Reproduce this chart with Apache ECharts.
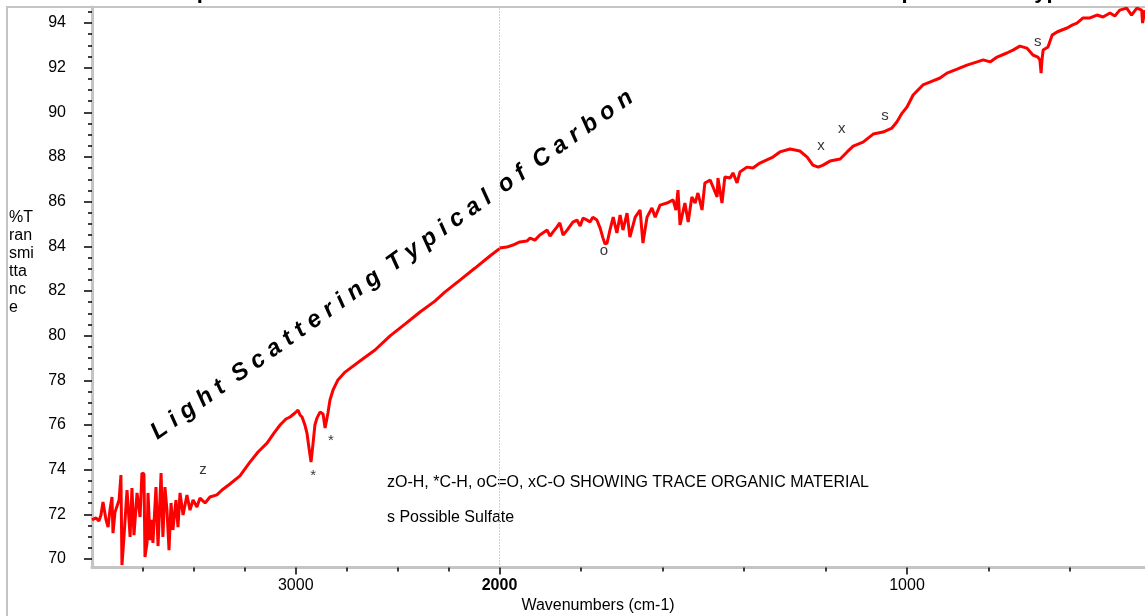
<!DOCTYPE html>
<html>
<head>
<meta charset="utf-8">
<script src="https://cdn.jsdelivr.net/npm/echarts@6/dist/echarts.min.js"></script>
<style>
html,body{margin:0;padding:0;background:#fff;}
#chart{width:1145px;height:616px;}
</style>
</head>
<body>
<div id="chart"></div>
<script>
// ---- data ----
// 4000-2000 cm-1 section
const waveHigh = [4000,3980,3966,3956,3946,3931,3921,3912,3902,3897,3887,3877,3867,3858,3853,3843,3833,3828,3813,3804,3794,3779,3764,3755,3745,3740,3730,3725,3715,3706,3701,3686,3676,3661,3652,3642,3632,3622,3612,3603,3588,3578,3568,3553,3534,3519,3504,3485,3470,3445,3421,3387,3362,3323,3274,3225,3185,3141,3107,3077,3048,3028,3004,2989,2979,2969,2955,2945,2935,2925,2920,2915,2906,2896,2881,2866,2856,2847,2842,2832,2817,2793,2758,2685,2611,2537,2464,2390,2317,2267,2194,2120,2047,2000];
const tHigh = [71.75,71.84,71.70,71.97,72.55,71.75,71.43,72.19,72.78,71.16,72.10,72.37,72.64,73.76,69.73,70.99,72.42,73.09,70.99,73.18,71.07,72.96,71.88,73.85,73.81,70.09,70.72,72.96,70.85,71.75,70.72,73.22,70.58,73.85,70.99,73.22,72.19,70.40,72.51,71.30,72.64,71.43,72.96,71.97,72.87,72.19,72.64,72.33,72.73,72.51,72.78,72.87,73.09,73.36,73.72,74.34,74.79,75.19,75.64,76.00,76.27,76.36,76.54,76.67,76.45,76.36,76.00,75.64,74.97,74.34,74.39,75.19,76.00,76.31,76.58,76.49,75.87,75.87,76.54,77.12,77.57,78.02,78.37,78.87,79.36,79.99,80.52,81.06,81.55,81.96,82.49,83.03,83.57,83.90];
// 2000-416 cm-1 section (expanded scale)
const waveLow = [2000,1982,1967,1950,1933,1925,1913,1901,1883,1876,1869,1859,1852,1844,1834,1827,1820,1810,1802,1795,1785,1778,1771,1761,1753,1746,1741,1736,1729,1721,1712,1704,1697,1687,1680,1667,1655,1648,1638,1626,1618,1606,1589,1574,1567,1562,1557,1545,1537,1528,1520,1513,1503,1496,1483,1476,1466,1464,1454,1447,1434,1427,1417,1410,1393,1378,1361,1344,1329,1312,1287,1263,1245,1231,1218,1206,1189,1164,1147,1132,1108,1083,1059,1037,1025,1012,1000,985,961,944,919,902,877,853,828,813,796,779,755,740,723,706,691,679,674,671,669,666,654,644,632,620,607,595,583,568,551,534,519,502,490,478,461,449,436,424,422,416];
const tLow = [83.93,83.97,84.06,84.20,84.24,84.37,84.28,84.51,84.73,84.46,84.64,84.87,85.05,84.51,84.73,84.91,85.09,85.18,84.91,85.27,85.18,85.09,85.31,85.18,84.82,84.37,84.11,84.15,84.73,85.31,84.60,85.40,84.73,85.49,84.42,85.31,85.63,84.15,85.31,85.72,85.31,85.85,85.94,86.08,85.63,86.52,84.96,85.94,85.09,86.21,85.94,86.39,85.63,86.84,86.97,86.66,86.21,87.06,85.94,87.11,87.06,87.29,86.84,87.33,87.55,87.51,87.73,87.87,88.00,88.23,88.36,88.27,88.00,87.64,87.55,87.64,87.82,87.91,88.23,88.49,88.67,89.03,89.12,89.30,89.57,89.97,90.24,90.78,91.23,91.36,91.54,91.76,91.94,92.12,92.26,92.35,92.26,92.48,92.66,92.79,92.97,92.88,92.57,92.48,92.35,91.76,92.30,92.79,92.93,93.46,93.60,93.69,93.78,93.91,94.00,94.23,94.23,94.36,94.27,94.45,94.32,94.58,94.67,94.36,94.67,94.58,94.00,94.58];

// tick labels
const yTickValues = [70,72,74,76,78,80,82,84,86,88,90,92,94];
const yMinorValues = [70.5,71,71.5,72.5,73,73.5,74.5,75,75.5,76.5,77,77.5,78.5,79,79.5,80.5,81,81.5,82.5,83,83.5,84.5,85,85.5,86.5,87,87.5,88.5,89,89.5,90.5,91,91.5,92.5,93,93.5,94.5];
const xHighMajor = [3000];
const xHighMinor = [2250,2500,2750,3250,3500,3750];
const xLowMajor = [2000,1000];
const xLowMinor = [1800,1600,1400,1200,800,600];

// peak annotations
const peakHighText = ['z','*','*'];
const peakHighWave = [3455,2915,2827];
const peakHighT = [73.99,73.72,75.28];
const peakLowText = ['o','x','x','s','s'];
const peakLowWave = [1744,1211,1160,1054,679];
const peakLowT = [83.79,88.49,89.26,89.84,93.15];

const Y_MIN = 69.62, Y_MAX = 94.72;
const FONT = '"Liberation Sans", Arial, sans-serif';

const chart = echarts.init(document.getElementById('chart'), null, {renderer:'canvas'});

const pairs = (xs, ys) => xs.map((x, i) => [x, ys[i]]);
const named = (txt, xs, ys) => txt.map((t, i) => ({name: t, value: [xs[i], ys[i]]}));

const baseY = {
  type: 'value', min: Y_MIN, max: Y_MAX, splitLine: {show: false}
};
const labelStyle = {color: '#000', fontSize: 16, fontFamily: FONT};

const option = {
  animation: false,
  backgroundColor: '#fff',
  grid: [
    {left: 92, top: 7, width: 407.5, bottom: 48.5, containLabel: false},
    {left: 499.5, top: 7, right: 0, bottom: 48.5, containLabel: false}
  ],
  xAxis: [
    {gridIndex: 0, type: 'value', position: 'bottom', min: 2000, max: 4000, inverse: true,
     axisLine: {show: true, lineStyle: {color: '#c4c4c4', width: 3}},
     axisTick: {show: true, customValues: xHighMajor, length: 7, lineStyle: {color: '#000', width: 1.5}},
     axisLabel: {show: true, customValues: xHighMajor, margin: 10, ...labelStyle, formatter: v => String(v)},
     splitLine: {show: false}},
    {gridIndex: 0, type: 'value', position: 'bottom', offset: 0, min: 2000, max: 4000, inverse: true,
     axisLine: {show: false},
     axisTick: {show: true, customValues: xHighMinor, length: 4, lineStyle: {color: '#000', width: 1.5}},
     axisLabel: {show: false}, splitLine: {show: false}},
    {gridIndex: 1, type: 'value', position: 'bottom', min: 416, max: 2000, inverse: true,
     axisLine: {show: true, lineStyle: {color: '#c4c4c4', width: 3}},
     axisTick: {show: true, customValues: xLowMajor, length: 7, lineStyle: {color: '#000', width: 1.5}},
     axisLabel: {show: true, customValues: xLowMajor, margin: 10, ...labelStyle,
       formatter: v => v === 2000 ? '{b|2000}' : String(v),
       rich: {b: {fontWeight: 'bold', fontSize: 16, fontFamily: FONT, color: '#000'}}},
     splitLine: {show: false}},
    {gridIndex: 1, type: 'value', position: 'bottom', offset: 0, min: 416, max: 2000, inverse: true,
     axisLine: {show: false},
     axisTick: {show: true, customValues: xLowMinor, length: 4, lineStyle: {color: '#000', width: 1.5}},
     axisLabel: {show: false}, splitLine: {show: false}}
  ],
  yAxis: [
    {...baseY, gridIndex: 0, position: 'left',
     axisLine: {show: true, lineStyle: {color: '#c4c4c4', width: 3}},
     axisTick: {show: true, customValues: yTickValues, length: 8, lineStyle: {color: '#000', width: 1.5}},
     axisLabel: {show: true, customValues: yTickValues, margin: 26, ...labelStyle}},
    {...baseY, gridIndex: 0, position: 'left', offset: 0,
     axisLine: {show: false},
     axisTick: {show: true, customValues: yMinorValues, length: 4, lineStyle: {color: '#000', width: 1.5}},
     axisLabel: {show: false}},
    {...baseY, gridIndex: 1, position: 'left',
     axisLine: {show: true, lineStyle: {color: '#cccccc', width: 1, type: [1, 2]}},
     axisTick: {show: false}, axisLabel: {show: false}}
  ],
  series: [
    {type: 'line', xAxisIndex: 0, yAxisIndex: 0, data: pairs(waveHigh, tHigh),
     showSymbol: false, symbol: 'none', lineStyle: {color: '#ff0000', width: 3}, z: 5},
    {type: 'line', xAxisIndex: 2, yAxisIndex: 2, data: pairs(waveLow, tLow),
     showSymbol: false, symbol: 'none', lineStyle: {color: '#ff0000', width: 3}, z: 5},
    {type: 'scatter', xAxisIndex: 0, yAxisIndex: 0, data: named(peakHighText, peakHighWave, peakHighT),
     symbolSize: 1, itemStyle: {color: 'rgba(0,0,0,0)'}, z: 6,
     label: {show: true, position: 'inside', formatter: '{b}', color: '#000', fontSize: 15, fontFamily: FONT}},
    {type: 'scatter', xAxisIndex: 2, yAxisIndex: 2, data: named(peakLowText, peakLowWave, peakLowT),
     symbolSize: 1, itemStyle: {color: 'rgba(0,0,0,0)'}, z: 6,
     label: {show: true, position: 'inside', formatter: '{b}', color: '#000', fontSize: 15, fontFamily: FONT}}
  ],
  graphic: [
    {type: 'rect', silent: true, z: -10, shape: {x: 7, y: 7, width: 1400, height: 800},
     style: {fill: 'none', stroke: '#c4c4c4', lineWidth: 2}},
    {type: 'text', silent: true, x: 182, y: 3,
     style: {text: 'Spectrum of Black Residue Removed From Filter Element', fontSize: 22, fontWeight: 'bold',
             fontFamily: FONT, fill: '#000', align: 'left', verticalAlign: 'bottom'}},
    {type: 'text', silent: true, x: 855, y: 3,
     style: {text: 'Sample Carbon Type', fontSize: 22, fontWeight: 'bold',
             fontFamily: FONT, fill: '#000', align: 'left', verticalAlign: 'bottom'}},
    {type: 'text', silent: true, x: 9, y: 209,
     style: {text: '%T\nran\nsmi\ntta\nnc\ne', fontSize: 16, lineHeight: 18, fontFamily: FONT,
             fill: '#000', align: 'left', verticalAlign: 'top'}},
    {type: 'text', silent: true, x: 598, y: 606,
     style: {text: 'Wavenumbers (cm-1)', fontSize: 16, fontFamily: FONT, fill: '#000',
             align: 'center', verticalAlign: 'middle'}},
    {type: 'text', silent: true, x: 387, y: 483,
     style: {text: 'zO-H, *C-H, oC=O, xC-O SHOWING TRACE ORGANIC MATERIAL', fontSize: 16, fontFamily: FONT,
             fill: '#000', align: 'left', verticalAlign: 'middle'}},
    {type: 'text', silent: true, x: 387, y: 518,
     style: {text: 's Possible Sulfate', fontSize: 16, fontFamily: FONT,
             fill: '#000', align: 'left', verticalAlign: 'middle'}},
    {type: 'text', silent: true, x: 392, y: 265, rotation: 35.4 * Math.PI / 180, z: 3,
     style: {text: 'L i g h t  S c a t t e r i n g  T y p i c a l  o f  C a r b o n',
             fontSize: 24, fontWeight: 'bold', fontStyle: 'italic', fontFamily: FONT,
             fill: '#000', align: 'center', verticalAlign: 'middle'}}
  ]
};
chart.setOption(option);
</script>
</body>
</html>
